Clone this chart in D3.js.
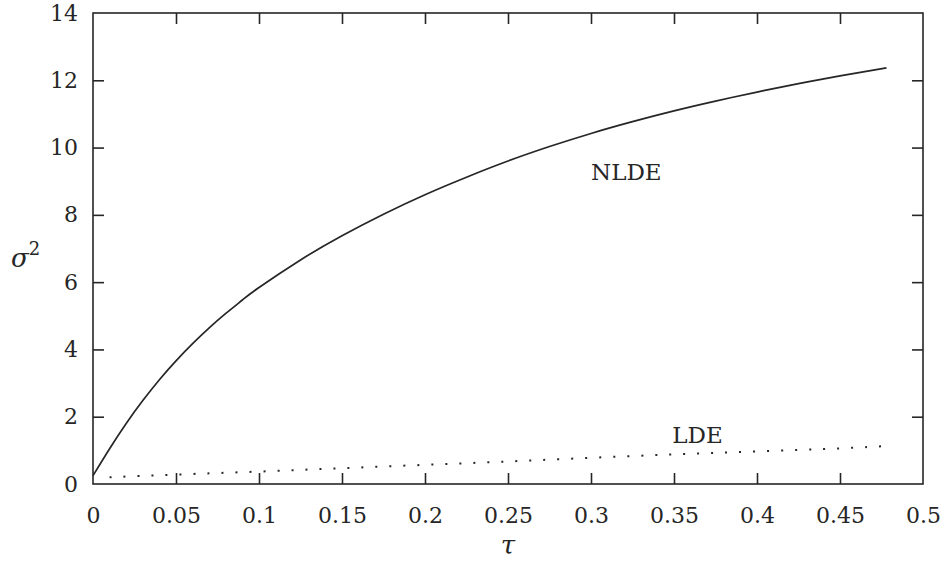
<!DOCTYPE html>
<html>
<head>
<meta charset="utf-8">
<script src="https://cdn.jsdelivr.net/npm/d3@7"></script>
<style>
  html, body { margin: 0; padding: 0; background: #ffffff; }
  svg { display: block; }
  text { font-family: "DejaVu Serif", "Liberation Serif", serif; fill: #262626; }
</style>
</head>
<body>
<svg id="chart" width="946" height="563"></svg>
<script>
// ---- data ----
const nldeTau = [0, 0.01, 0.02, 0.03, 0.04, 0.05, 0.06, 0.07, 0.08, 0.09, 0.1, 0.125, 0.15, 0.175, 0.2, 0.225, 0.25, 0.275, 0.3, 0.325, 0.35, 0.375, 0.4, 0.425, 0.45, 0.478];
const nldeSigma2 = [0.25, 1.05, 1.8, 2.48, 3.1, 3.66, 4.17, 4.64, 5.07, 5.47, 5.84, 6.66, 7.38, 8.02, 8.6, 9.12, 9.6, 10.03, 10.42, 10.77, 11.09, 11.38, 11.65, 11.9, 12.13, 12.37];
const ldeTau = [0.01, 0.05, 0.1, 0.15, 0.2, 0.25, 0.3, 0.35, 0.4, 0.45, 0.478];
const ldeSigma2 = [0.2, 0.28, 0.37, 0.47, 0.57, 0.67, 0.78, 0.88, 0.97, 1.06, 1.13];
const xTicks = [0, 0.05, 0.1, 0.15, 0.2, 0.25, 0.3, 0.35, 0.4, 0.45, 0.5];
const yTicks = [0, 2, 4, 6, 8, 10, 12, 14];
const seriesLabels = ["NLDE", "LDE"];

// ---- layout ----
const svg = d3.select("#chart");
const L = 93, R = 923, T = 13, B = 484;
const x = d3.scaleLinear().domain([0, 0.5]).range([L, R]);
const y = d3.scaleLinear().domain([0, 14]).range([B, T]);
const ink = "#262626";
const tickLen = 11;
const fs = 22;

// frame
svg.append("rect").attr("x", L).attr("y", T).attr("width", R - L).attr("height", B - T)
  .attr("fill", "none").attr("stroke", ink).attr("stroke-width", 1.6);

// axes (inward ticks, no domain line)
const xb = svg.append("g").attr("transform", `translate(0,${B})`)
  .call(d3.axisBottom(x).tickValues(xTicks).tickSize(-tickLen).tickPadding(23).tickFormat(d => d3.format("")(d)));
const xt = svg.append("g").attr("transform", `translate(0,${T})`)
  .call(d3.axisTop(x).tickValues(xTicks).tickSize(-tickLen).tickFormat(""));
const yl = svg.append("g").attr("transform", `translate(${L},0)`)
  .call(d3.axisLeft(y).tickValues(yTicks).tickSize(-tickLen).tickPadding(15));
const yr = svg.append("g").attr("transform", `translate(${R},0)`)
  .call(d3.axisRight(y).tickValues(yTicks).tickSize(-tickLen).tickFormat(""));

[xb, xt, yl, yr].forEach(g => {
  g.select(".domain").remove();
  g.selectAll("line").attr("stroke", ink).attr("stroke-width", 1.6);
  g.selectAll("text").attr("font-size", fs).attr("fill", ink)
    .style("font-family", '"DejaVu Serif", serif');
});
// no tick marks at the frame corners
[xb, xt].forEach(g => g.selectAll(".tick line").filter(d => d === 0 || d === 0.5).remove());
[yl, yr].forEach(g => g.selectAll(".tick line").filter(d => d === 0 || d === 14).remove());

// NLDE solid curve
const nlde = nldeTau.map((t, i) => [t, nldeSigma2[i]]);
svg.append("path").datum(nlde)
  .attr("d", d3.line().x(d => x(d[0])).y(d => y(d[1])).curve(d3.curveNatural))
  .attr("fill", "none").attr("stroke", ink).attr("stroke-width", 1.7);

// LDE dotted curve
const lde = ldeTau.map((t, i) => [t, ldeSigma2[i]]);
svg.append("path").datum(lde)
  .attr("d", d3.line().x(d => x(d[0])).y(d => y(d[1])).curve(d3.curveNatural))
  .attr("fill", "none").attr("stroke", ink).attr("stroke-width", 2)
  .attr("stroke-dasharray", "2,12");

// series labels
svg.append("text").attr("x", x(0.3)).attr("y", y(9.05)).attr("font-size", 23)
  .attr("fill", ink).text(seriesLabels[0]);
svg.append("text").attr("x", x(0.349)).attr("y", y(1.22)).attr("font-size", 23)
  .attr("fill", ink).text(seriesLabels[1]);

// axis titles
const yt = svg.append("text").attr("x", 11).attr("y", 267).attr("font-size", 26).attr("fill", ink);
yt.append("tspan").attr("font-style", "italic").text("σ");
yt.append("tspan").attr("font-size", 18).attr("dy", -12).text("2");
svg.append("text").attr("x", x(0.25)).attr("y", 554).attr("text-anchor", "middle")
  .attr("font-size", 26).attr("font-style", "italic").attr("fill", ink).text("τ");
</script>
</body>
</html>
